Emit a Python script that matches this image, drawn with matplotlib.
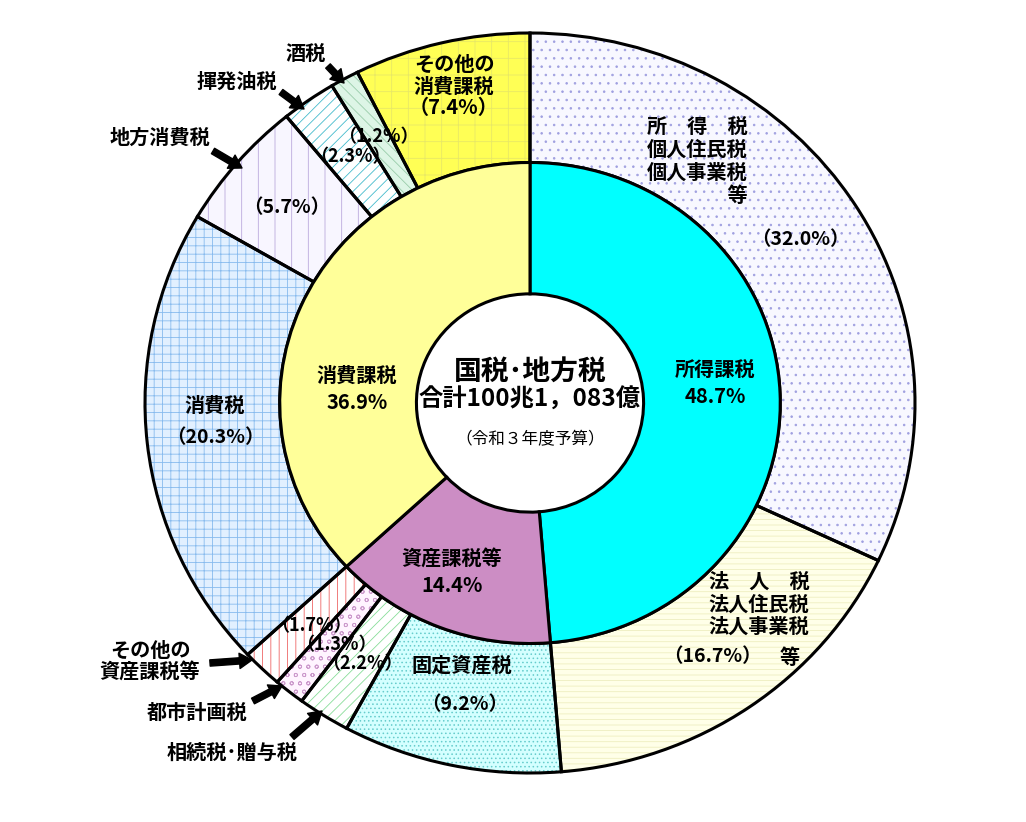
import matplotlib
matplotlib.use('Agg')
import matplotlib.pyplot as plt

plt.rcParams['font.family'] = ['Noto Sans CJK JP', 'DejaVu Sans']
plt.rcParams['hatch.linewidth'] = 0.6

W, H = 1026, 822

# inner ring (groups)
group_names = ['所得課税', '資産課税等', '消費課税']
group_shares = [48.7, 14.4, 36.9]
group_colors = ['#00FFFF', '#CC8DC4', '#FFFF99']

# outer ring (individual taxes)
tax_names = ['所得税等', '法人税等', '固定資産税', '相続税・贈与税', '都市計画税',
             'その他の資産課税等', '消費税', '地方消費税', '揮発油税', '酒税', 'その他の消費課税']
tax_shares = [32.0, 16.7, 9.2, 2.2, 1.3, 1.7, 20.3, 5.7, 2.3, 1.2, 7.4]
tax_faces = ['#F8F8FF', '#FFFFE8', '#D4FFFF', '#FFFFFF', '#FFF4FF', '#FFFFFF',
             '#E2F0FF', '#F8F6FF', '#FFFFFF', '#DDF5E6', '#FFFF55']
tax_hatches = ['..', '---', '....', '///', 'oo', '||', '++', '|', '///', '\\\\\\', '+']
tax_hatch_colors = ['#A0A0E0', '#EEEEC0', '#66CCCC', '#88DD99', '#CC99CC', '#EE6666',
                    '#88BBEE', '#BBAADD', '#44BBCC', '#99CCAA', '#E8E866']

R_OUT, R_MID, R_HOLE = 1.0, 0.65, 0.295


def put(x, y, s, size=14.5, weight='bold', **kw):
    # place text by pixel position of the reference picture
    fig.text(x / W, 1 - y / H, s, ha=kw.pop('ha', 'center'), va='center',
             fontsize=size, fontweight=weight, **kw)


def arrow(x1, y1, x2, y2):
    ax.annotate('', xy=(x2, H - y2), xytext=(x1, H - y1),
                xycoords='figure pixels', textcoords='figure pixels',
                arrowprops=dict(arrowstyle='simple,head_width=1.1,head_length=0.9,tail_width=0.45',
                                color='black', shrinkA=0, shrinkB=0))


fig = plt.figure(figsize=(W / 100, H / 100), dpi=100)
ax = fig.add_axes([106.5 / W, 12 / H, 847 / W, 814 / H])

# outer ring: fill + hatch
wedges, _ = ax.pie(tax_shares, radius=R_OUT, startangle=90, counterclock=False,
                   wedgeprops=dict(width=R_OUT - R_MID, linewidth=0))
for w, fc, h, hc in zip(wedges, tax_faces, tax_hatches, tax_hatch_colors):
    w.set_facecolor(fc)
    w.set_edgecolor(hc)
    w.set_hatch(h)
# outer ring outlines
ax.pie(tax_shares, radius=R_OUT, startangle=90, counterclock=False,
       wedgeprops=dict(width=R_OUT - R_MID, facecolor='none', edgecolor='black', linewidth=2.2))

# inner ring
ax.pie(group_shares, radius=R_MID, startangle=90, counterclock=False, colors=group_colors,
       wedgeprops=dict(width=R_MID - R_HOLE, edgecolor='black', linewidth=2.2))

ax.set_aspect('auto')
ax.set_xlim(-1.1, 1.1)
ax.set_ylim(-1.1, 1.1)
ax.axis('off')

# center
put(530, 372, '国税･地方税', size=20)
put(530, 400, '合計100兆1，083億', size=17.5)
put(530, 440, '（令和３年度予算）', size=12, weight='normal')

# inner labels
put(715, 383, '所得課税\n48.7%', linespacing=1.35)
put(357, 389, '消費課税\n36.9%', linespacing=1.35)
put(452, 572, '資産課税等\n14.4%', linespacing=1.35)

# outer labels
put(697, 161, '所　得　税\n個人住民税\n個人事業税\n　　　　等', linespacing=1.1)
put(800, 240, '（32.0%）', size=14)
put(759, 604, '法　人　税\n法人住民税\n法人事業税', linespacing=1.1)
put(712, 657, '（16.7%）', size=14)
put(790, 657, '等')
put(462, 665, '固定資産税')
put(465, 705, '（9.2%）', size=14)
put(362, 664, '（2.2%）', size=13)
put(336, 645, '（1.3%）', size=13)
put(311, 626, '（1.7%）', size=13)
put(215, 405, '消費税')
put(215, 438, '（20.3%）', size=14)
put(287, 208, '（5.7%）', size=14)
put(350, 157, '（2.3%）', size=13)
put(378, 137, '（1.2%）', size=13)
put(454, 86, 'その他の\n消費課税\n（7.4%）', linespacing=1.05)

# labels with arrows
put(150, 661, 'その他の\n資産課税等', linespacing=1.0)
arrow(210, 663, 252, 660)
put(197, 712, '都市計画税')
arrow(253, 701, 282, 686)
put(232, 752, '相続税･贈与税')
arrow(292, 737, 322, 711)
put(160, 137, '地方消費税')
arrow(213, 151, 242, 168)
put(237, 81, '揮発油税')
arrow(281, 92, 304, 109)
put(306, 53, '酒税')
arrow(328, 66, 344, 83)

fig.savefig('out.png', dpi=100, facecolor='white')
